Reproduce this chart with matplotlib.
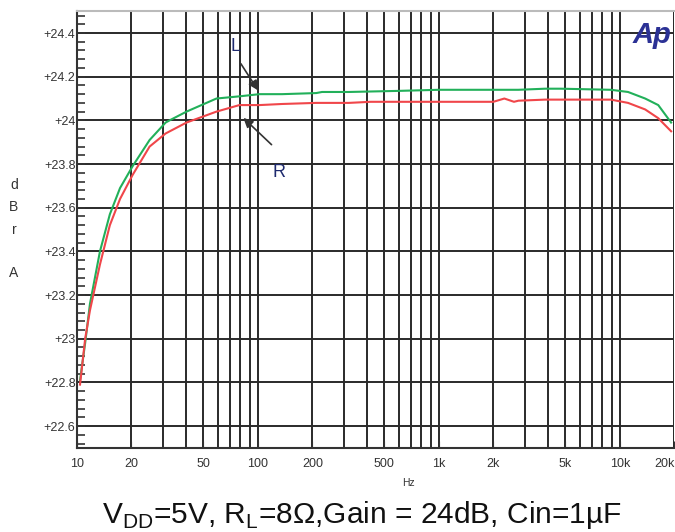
import numpy as np
import matplotlib
matplotlib.use('Agg')
import matplotlib.pyplot as plt
from matplotlib.ticker import FixedLocator, NullFormatter, MultipleLocator

plt.rcParams['font.family'] = ['Liberation Sans', 'DejaVu Sans']
plt.rcParams['mathtext.fontset'] = 'custom'
plt.rcParams['mathtext.rm'] = 'Liberation Sans'

# Left channel (green)
l_freq = [10.4, 11.1, 11.8, 13.4, 15.2, 17.3, 20.3, 25.2, 30.9, 32.5, 40.3, 59, 79, 102, 136,
          210, 226, 318, 600, 1000, 2000, 2750, 3860, 4730, 8930, 11100, 13800, 16300, 19200]
l_db = [22.81, 22.98, 23.16, 23.40, 23.57, 23.69, 23.79, 23.91, 23.99, 24.00, 24.04, 24.10, 24.11,
        24.12, 24.12, 24.125, 24.13, 24.13, 24.135, 24.14, 24.14, 24.14, 24.145, 24.145, 24.14,
        24.13, 24.10, 24.07, 23.99]

# Right channel (red)
r_freq = [10.4, 11.1, 11.8, 13.4, 15.2, 17.3, 20.3, 25.2, 30.9, 40.3, 59, 79, 102, 136,
          210, 318, 420, 1000, 2000, 2300, 2600, 2750, 3860, 4730, 8930, 11100, 13800, 16300, 19200]
r_db = [22.79, 23.00, 23.13, 23.34, 23.52, 23.64, 23.75, 23.88, 23.94, 23.99, 24.04, 24.07, 24.07,
        24.075, 24.08, 24.08, 24.085, 24.085, 24.085, 24.10, 24.085, 24.09, 24.095, 24.095, 24.095,
        24.08, 24.05, 24.01, 23.95]

x_ticks = [10, 20, 50, 100, 200, 500, 1000, 2000, 5000, 10000, 20000]
x_labels = ['10', '20', '50', '100', '200', '500', '1k', '2k', '5k', '10k', '20k']
y_ticks = [22.6, 22.8, 23.0, 23.2, 23.4, 23.6, 23.8, 24.0, 24.2, 24.4]
y_labels = ['+22.6', '+22.8', '+23', '+23.2', '+23.4', '+23.6', '+23.8', '+24', '+24.2', '+24.4']

grid_x = [m * 10 ** d for d in range(1, 5) for m in range(1, 10)] + [20000]

fig = plt.figure(figsize=(6.75, 5.32), dpi=100)
ax = fig.add_axes([0.114, 0.158, 0.885, 0.821])

ax.plot(l_freq, l_db, color='#22b05a', lw=1.5, zorder=3)
ax.plot(r_freq, r_db, color='#f0464a', lw=1.5, zorder=3)

ax.set_xscale('log')
ax.set_xlim(10, 20000)
ax.set_ylim(22.5, 24.5)

ax.xaxis.set_major_locator(FixedLocator(x_ticks))
ax.set_xticklabels(x_labels)
ax.get_xticklabels()[-1].set_ha('right')
ax.xaxis.set_minor_locator(FixedLocator(grid_x))
ax.xaxis.set_minor_formatter(NullFormatter())
ax.set_yticks(y_ticks)
ax.set_yticklabels(y_labels)
ax.yaxis.set_minor_locator(MultipleLocator(0.04))

for f in grid_x:
    ax.axvline(f, color='#2a2a2a', lw=1.4, zorder=1)
for v in y_ticks:
    ax.axhline(v, color='#2a2a2a', lw=1.4, zorder=1)

ax.tick_params(axis='both', which='both', direction='in', colors='#333333', labelsize=9)
ax.tick_params(axis='y', which='major', length=6, width=1.2, pad=1)
ax.tick_params(axis='y', which='minor', length=6, width=1.2)
ax.tick_params(axis='x', which='both', length=5, pad=7)
for s in ax.spines.values():
    s.set_color('#333333')
    s.set_linewidth(1.5)
ax.spines['top'].set_color('#bbbbbb')
ax.spines['right'].set_visible(False)

# channel markers
ax.annotate('', xy=(102, 24.127), xytext=(79, 24.27),
            arrowprops=dict(arrowstyle='-|>', color='#333333', lw=1.2, mutation_scale=14))
ax.text(75, 24.34, 'L', fontsize=13, color='#1e2a6e', ha='center', va='center')
ax.annotate('', xy=(81, 24.02), xytext=(122, 23.88),
            arrowprops=dict(arrowstyle='-|>', color='#333333', lw=1.2, mutation_scale=14))
ax.text(131, 23.76, 'R', fontsize=13, color='#1e2a6e', ha='center', va='center')

# logo
fig.text(0.995, 0.935, 'Ap', fontsize=21, fontweight='bold', fontstyle='italic',
         color='#2b3195', ha='right', va='center')

# vertical unit label
for ch, yp in zip(['d', 'B', 'r', 'A'], [185, 207, 230, 273]):
    fig.text(14 / 675, 1 - yp / 532, ch, fontsize=10, color='#333333', ha='center', va='center')

fig.text(408 / 675, 1 - 483 / 532, 'Hz', fontsize=7.5, color='#333333', ha='center', va='center')
fig.text(362 / 675, 1 - 515 / 532, r'V$_{\rm DD}$=5V, R$_{\rm L}$=8Ω,Gain = 24dB, Cin=1µF',
         fontsize=21.5, color='#111111', ha='center', va='center')

fig.savefig('out.png', dpi=100)
